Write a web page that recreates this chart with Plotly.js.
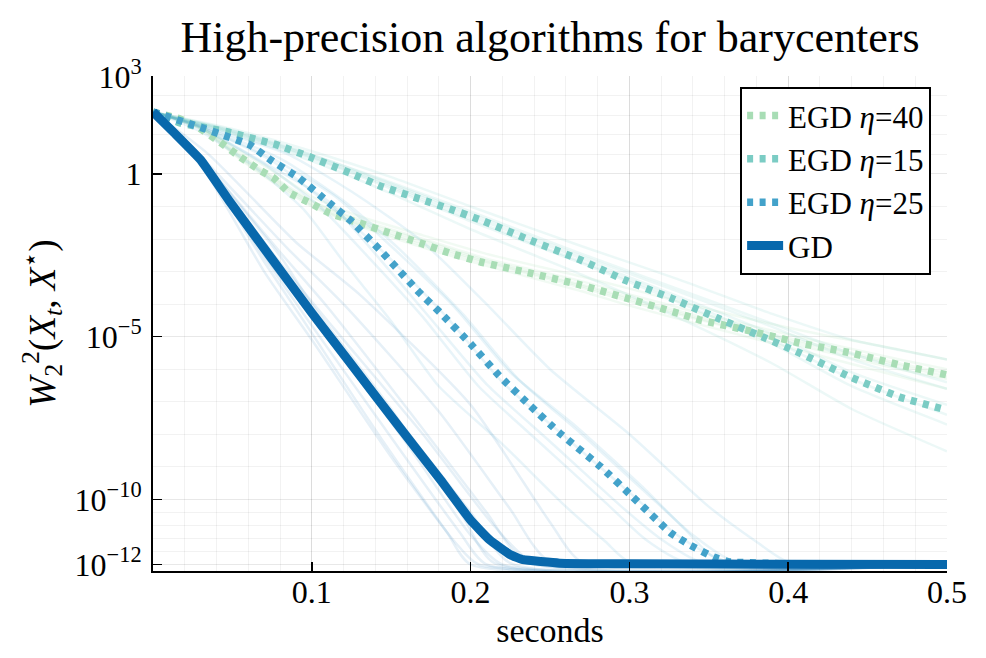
<!DOCTYPE html>
<html><head><meta charset="utf-8">
<script src="https://cdn.plot.ly/plotly-3.0.1.min.js"></script>
<style>html,body{margin:0;padding:0;background:#fff}#chart{width:986px;height:658px}</style>
</head><body><div id="chart"></div>
<script>
// ---------- data (seconds, W2^2 error) ----------
const seriesNames = ['EGD <i>η</i>=40', 'EGD <i>η</i>=15', 'EGD <i>η</i>=25', 'GD'];
const seriesColors = ['#a8ddb5', '#7bccc4', '#43a2ca', '#0868ac'];
const fadedColors = ['rgba(168,221,181,0.16)', 'rgba(123,204,196,0.14)', 'rgba(67,162,202,0.12)', 'rgba(8,104,172,0.10)'];

const egd40_t = [0, 0.017, 0.029, 0.042, 0.055, 0.067, 0.076, 0.086, 0.099, 0.111, 0.13, 0.149, 0.168, 0.187, 0.206, 0.237, 0.269, 0.3, 0.332, 0.344, 0.376, 0.407, 0.439, 0.47, 0.5];
const egd40_y = [80, 49, 26, 9.6, 3.3, 1.33, 0.75, 0.26, 0.128, 0.063, 0.031, 0.0154, 7.6e-3, 3.7e-3, 2.0e-3, 9.1e-4, 3.9e-4, 1.44e-4, 5e-5, 3.3e-5, 1.5e-5, 6.4e-6, 3.2e-6, 1.36e-6, 6.7e-7];

const egd15_t = [0, 0.017, 0.047, 0.078, 0.099, 0.124, 0.143, 0.168, 0.187, 0.206, 0.237, 0.269, 0.297, 0.326, 0.355, 0.384, 0.407, 0.439, 0.47, 0.5];
const egd15_y = [80, 37, 19.5, 7.8, 3.3, 1.07, 0.43, 0.17, 0.084, 0.039, 9.4e-3, 2.3e-3, 5.5e-4, 1.55e-4, 3.8e-5, 9.8e-6, 3.2e-6, 5.8e-7, 1.4e-7, 5.6e-8];

const egd25_t = [0, 0.029, 0.061, 0.074, 0.092, 0.111, 0.124, 0.143, 0.168, 0.181, 0.2, 0.218, 0.237, 0.256, 0.282, 0.302, 0.326, 0.338, 0.353, 0.363, 0.4, 0.5];
const egd25_y = [80, 28, 7.8, 2.7, 0.75, 0.128, 0.039, 4.6e-3, 2.2e-4, 5.4e-5, 6e-6, 6.3e-7, 8e-8, 1.1e-8, 1e-9, 1.2e-10, 9.3e-12, 4e-12, 1.7e-12, 1.2e-12, 1.05e-12, 1e-12];

const gd_t = [0, 0.014, 0.03, 0.048, 0.074, 0.1, 0.124, 0.155, 0.181, 0.2, 0.212, 0.225, 0.233, 0.256, 0.3, 0.4, 0.5];
const gd_y = [80, 17, 2.7, 0.15, 2.8e-3, 5.4e-5, 1.6e-6, 1.7e-8, 4e-10, 2.3e-11, 5.7e-12, 2e-12, 1.4e-12, 1.1e-12, 1.05e-12, 1.02e-12, 1e-12];

// individual runs (faint)
const egd40_runT = [0, 0.03, 0.055, 0.08, 0.1, 0.13, 0.17, 0.21, 0.27, 0.3, 0.35, 0.41, 0.47, 0.5];
const egd40_runY = [
  [80, 28, 4, 0.6, 0.15, 0.04, 0.01, 2.5e-3, 5e-4, 2e-4, 4.5e-5, 9e-6, 2e-6, 1e-6],
  [80, 24, 2.8, 0.4, 0.1, 0.025, 5.5e-3, 1.5e-3, 2.5e-4, 9e-5, 2e-5, 3.5e-6, 6e-7, 2.5e-7],
  [80, 27, 3.6, 0.5, 0.14, 0.035, 9e-3, 2.2e-3, 4e-4, 1.6e-4, 3.5e-5, 7e-6, 1.5e-6, 7.5e-7],
  [80, 25, 3, 0.45, 0.11, 0.028, 6.5e-3, 1.8e-3, 3.2e-4, 1.2e-4, 2.8e-5, 5e-6, 1e-6, 5e-7],
  [80, 30, 5, 0.9, 0.2, 0.05, 0.013, 3.5e-3, 7e-4, 3e-4, 7e-5, 1.5e-5, 4e-6, 2e-6],
  [80, 26, 3.3, 0.55, 0.12, 0.03, 7.5e-3, 2e-3, 3.6e-4, 1.4e-4, 3e-5, 6e-6, 1.3e-6, 6e-7]
];
const egd15_runT = [0, 0.05, 0.1, 0.15, 0.2, 0.27, 0.33, 0.39, 0.44, 0.5];
const egd15_runY = [
  [80, 22, 4, 0.5, 0.06, 3e-3, 2.5e-4, 2e-5, 2e-6, 2.5e-7],
  [80, 18, 3, 0.35, 0.035, 1.8e-3, 1.2e-4, 6e-6, 3e-7, 2e-8],
  [80, 20, 3.5, 0.45, 0.05, 2.5e-3, 1.8e-4, 1.2e-5, 8e-7, 8e-8],
  [80, 17, 2.5, 0.25, 0.02, 8e-4, 4e-5, 1.5e-6, 6e-8, 3e-9],
  [80, 24, 5, 0.8, 0.1, 6e-3, 6e-4, 5e-5, 8e-6, 2e-6],
  [80, 19, 3.2, 0.4, 0.04, 2e-3, 1.5e-4, 8e-6, 5e-7, 4e-8],
  [80, 21, 3.8, 0.55, 0.07, 3.5e-3, 3e-4, 2.5e-5, 3e-6, 4e-7]
];
const egd25_runT = [
  [0, 0.03, 0.07, 0.105, 0.135, 0.17, 0.205, 0.24, 0.285, 0.31, 0.335, 0.5],
  [0, 0.03, 0.08, 0.12, 0.155, 0.195, 0.23, 0.27, 0.315, 0.34, 0.365, 0.5],
  [0, 0.03, 0.085, 0.13, 0.17, 0.21, 0.25, 0.3, 0.35, 0.38, 0.4, 0.5],
  [0, 0.03, 0.065, 0.095, 0.12, 0.15, 0.18, 0.22, 0.26, 0.285, 0.3, 0.5],
  [0, 0.03, 0.075, 0.11, 0.145, 0.185, 0.22, 0.26, 0.305, 0.33, 0.36, 0.5],
  [0, 0.03, 0.075, 0.115, 0.15, 0.19, 0.225, 0.265, 0.31, 0.335, 0.355, 0.5],
  [0, 0.03, 0.07, 0.11, 0.14, 0.175, 0.21, 0.25, 0.295, 0.32, 0.345, 0.5]
];
const egd25_runY = [
  [80, 25, 2, 0.1, 3e-3, 4e-5, 3e-7, 8e-9, 8e-11, 6e-12, 1.2e-12, 1e-12],
  [80, 30, 3, 0.15, 5e-3, 5e-5, 5e-7, 1e-8, 1e-10, 8e-12, 1.3e-12, 1e-12],
  [80, 30, 4, 0.2, 8e-3, 1e-4, 1e-6, 1e-8, 6e-11, 5e-12, 1.2e-12, 1e-12],
  [80, 20, 1.5, 0.08, 2e-3, 3e-5, 3e-7, 5e-9, 6e-11, 5e-12, 1.2e-12, 1e-12],
  [80, 28, 2.5, 0.12, 4e-3, 4e-5, 4e-7, 8e-9, 1e-10, 8e-12, 1.3e-12, 1e-12],
  [80, 28, 3, 0.2, 6e-3, 8e-5, 8e-7, 2e-8, 2e-10, 1.2e-11, 1.5e-12, 1e-12],
  [80, 26, 2.2, 0.15, 3.5e-3, 3.5e-5, 3.5e-7, 6e-9, 6e-11, 6e-12, 1.2e-12, 1e-12]
];
const gd_runT = [
  [0, 0.03, 0.07, 0.1, 0.15, 0.19, 0.205, 0.5],
  [0, 0.03, 0.08, 0.11, 0.165, 0.21, 0.235, 0.5],
  [0, 0.03, 0.085, 0.12, 0.18, 0.225, 0.25, 0.5],
  [0, 0.03, 0.07, 0.095, 0.145, 0.185, 0.2, 0.5],
  [0, 0.035, 0.09, 0.13, 0.2, 0.25, 0.27, 0.5],
  [0, 0.03, 0.075, 0.105, 0.16, 0.2, 0.22, 0.5],
  [0, 0.03, 0.08, 0.1, 0.15, 0.195, 0.215, 0.5],
  [0, 0.03, 0.078, 0.108, 0.17, 0.215, 0.24, 0.5],
  [0, 0.03, 0.075, 0.1, 0.155, 0.2, 0.225, 0.5],
  [0, 0.03, 0.072, 0.098, 0.15, 0.193, 0.21, 0.5]
];
const gd_runY = [
  [80, 2, 1e-3, 8e-6, 2e-9, 5e-12, 1e-12, 1e-12],
  [80, 3, 4e-3, 8e-5, 3e-8, 4e-11, 1.2e-12, 1e-12],
  [80, 3.5, 5e-3, 1e-4, 5e-8, 5e-11, 1.2e-12, 1e-12],
  [80, 2.5, 2e-3, 3e-5, 6e-9, 1e-11, 1e-12, 1e-12],
  [80, 4, 8e-3, 2e-4, 8e-8, 2e-11, 1.2e-12, 1e-12],
  [80, 2.2, 1.5e-3, 2e-5, 5e-9, 8e-12, 1e-12, 1e-12],
  [80, 3, 3e-3, 1e-4, 6e-8, 3e-11, 1.1e-12, 1e-12],
  [80, 2.8, 2.5e-3, 4e-5, 1e-8, 1.5e-11, 1.1e-12, 1e-12],
  [80, 2.7, 2.5e-3, 6e-5, 2.5e-8, 4e-11, 1.1e-12, 1e-12],
  [80, 2.5, 2e-3, 3e-5, 8e-9, 1e-11, 1e-12, 1e-12]
];

// axis ticks
const xTickVals = [0.1, 0.2, 0.3, 0.4, 0.5];
const xTickText = ['0.1', '0.2', '0.3', '0.4', '0.5'];
const yTickExp = [3, 0, -5, -10, -12];
const yTickText = ['10<sup>3</sup>', '1', '10<sup>−5</sup>', '10<sup>−10</sup>', '10<sup>−12</sup>'];

// ---------- build ----------
const FONT = '"Liberation Serif", "DejaVu Serif", serif';
const traces = [];
function faint(tArr, yArr, color) {
  yArr.forEach((ys, i) => {
    const ts = Array.isArray(tArr[0]) ? tArr[i] : tArr;
    traces.push({x: ts, y: ys, mode: 'lines', showlegend: false, hoverinfo: 'skip',
      line: {color: color, width: 2.5, shape: 'spline', smoothing: 0.6}});
  });
}
faint(egd40_runT, egd40_runY, fadedColors[0]);
faint(egd15_runT, egd15_runY, fadedColors[1]);
faint(egd25_runT, egd25_runY, fadedColors[2]);
faint(gd_runT, gd_runY, fadedColors[3]);

const mains = [[egd40_t, egd40_y], [egd15_t, egd15_y], [egd25_t, egd25_y], [gd_t, gd_y]];
mains.forEach((m, i) => {
  const isGD = i === 3;
  traces.push({x: m[0], y: m[1], mode: 'lines', name: seriesNames[i],
    line: {color: seriesColors[i], width: isGD ? 9 : 7.5, dash: isGD ? 'solid' : '6px,6.5px',
      shape: 'spline', smoothing: 0.3}});
});

// minor y gridlines: 5 subdivisions between major ticks
const yMinor = [];
for (let k = 0; k < yTickExp.length - 1; k++) {
  const a = yTickExp[k], b = yTickExp[k + 1];
  for (let j = 1; j < 5; j++) yMinor.push(Math.pow(10, a + (b - a) * j / 5));
}

const layout = {
  width: 986, height: 658,
  margin: {l: 153, r: 39, t: 76, b: 87},
  paper_bgcolor: '#fff', plot_bgcolor: '#fff',
  font: {family: FONT, color: '#000', size: 30},
  title: {text: 'High-precision algorithms for barycenters', font: {family: FONT, size: 44, color: '#000'},
    x: 0.5, xref: 'paper', y: 1 - 37 / 658, yref: 'container', yanchor: 'middle'},
  showlegend: true,
  legend: {x: 0.98, xanchor: 'right', y: 0.978, yanchor: 'top', bgcolor: '#fff',
    bordercolor: '#000', borderwidth: 2, itemwidth: 36, font: {family: FONT, size: 31, color: '#000'}},
  xaxis: {
    range: [0, 0.5], tickmode: 'array', tickvals: xTickVals, ticktext: xTickText,
    ticks: 'inside', ticklen: 9, tickwidth: 1.5, tickcolor: '#000',
    showline: true, linecolor: '#000', linewidth: 2, zeroline: false,
    showgrid: true, gridcolor: 'rgba(0,0,0,0.09)', gridwidth: 1,
    minor: {dtick: 0.02, tick0: 0, showgrid: true, gridcolor: 'rgba(0,0,0,0.05)', gridwidth: 1, ticks: ''},
    tickfont: {family: FONT, size: 32, color: '#000'}, ticklabelstandoff: -8,
    title: {text: 'seconds', font: {family: FONT, size: 34, color: '#000'}, standoff: 9}
  },
  yaxis: {
    type: 'log', range: [-12.2, 3.01], tickmode: 'array',
    tickvals: yTickExp.map(e => Math.pow(10, e)), ticktext: yTickText,
    ticks: 'inside', ticklen: 9, tickwidth: 1.5, tickcolor: '#000',
    showline: true, linecolor: '#000', linewidth: 2, zeroline: false,
    showgrid: true, gridcolor: 'rgba(0,0,0,0.09)', gridwidth: 1,
    minor: {tickmode: 'array', tickvals: yMinor, showgrid: true, gridcolor: 'rgba(0,0,0,0.05)', gridwidth: 1, ticks: ''},
    tickfont: {family: FONT, size: 32, color: '#000'}, ticklabelstandoff: 3,
    title: {text: '<i>W</i><sub>2</sub><sup>2</sup>(<i>X<sub>t</sub></i>, <i>X</i><sup>⋆</sup>)', font: {family: FONT, size: 37, color: '#000'}, standoff: 8}
  }
};

Plotly.newPlot('chart', traces, layout, {displayModeBar: false, staticPlot: true});
</script></body></html>
